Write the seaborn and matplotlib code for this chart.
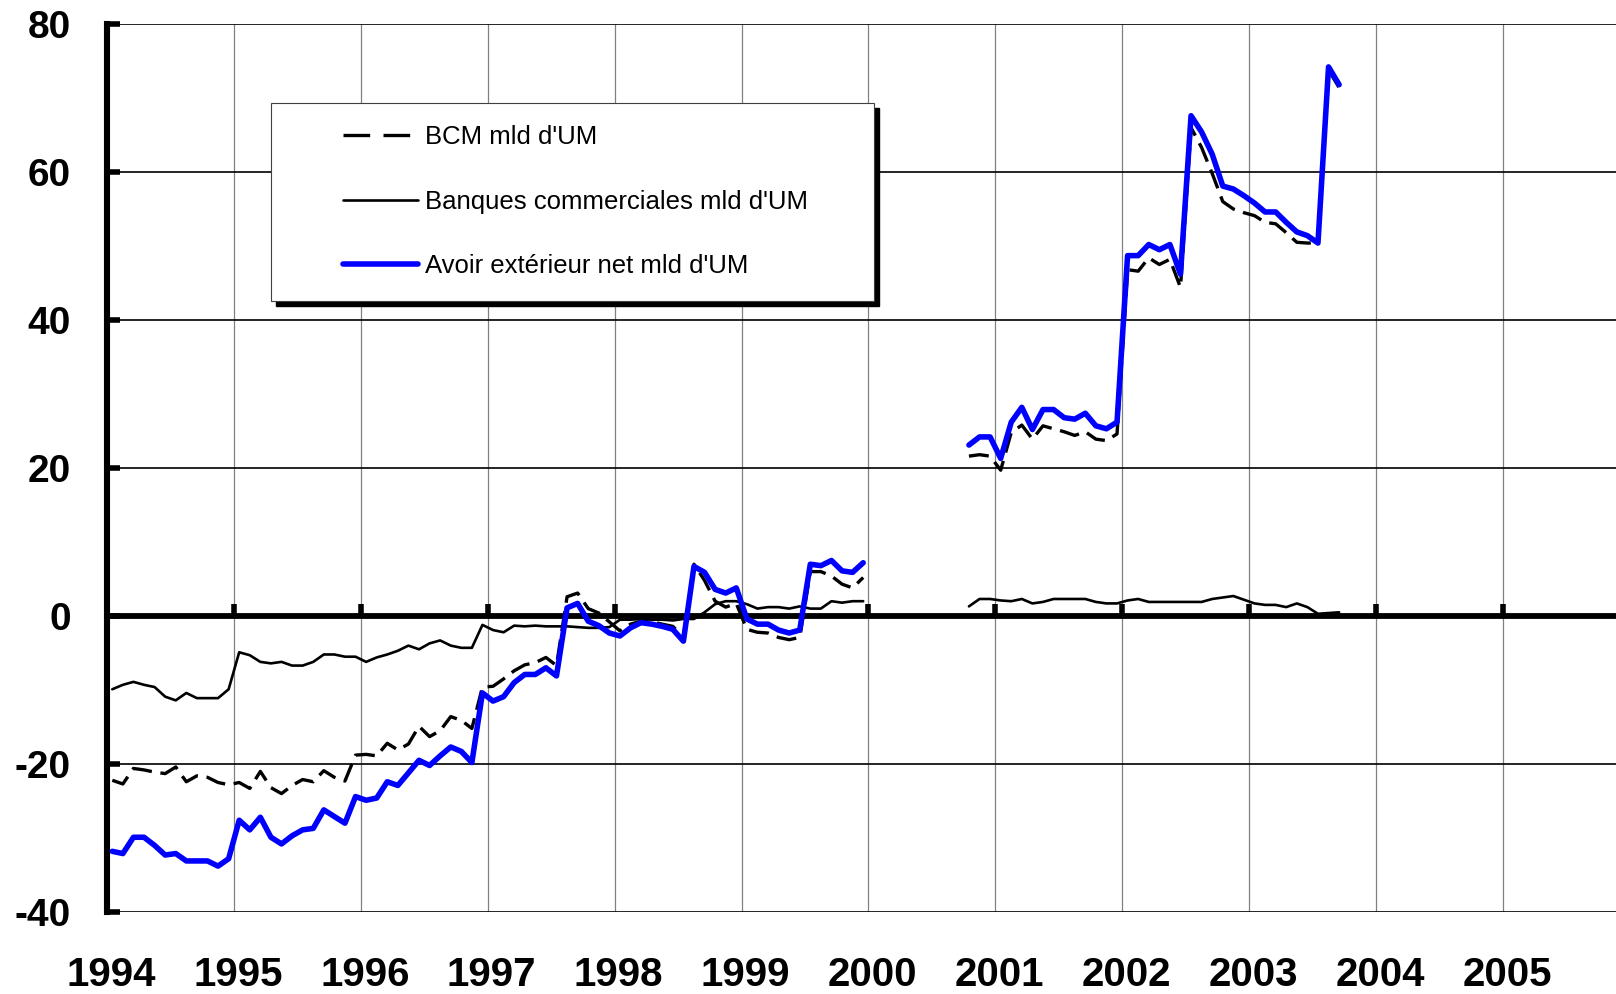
import numpy as np
import pandas as pd
import matplotlib
matplotlib.use("Agg")
import matplotlib.pyplot as plt
import matplotlib.transforms as mtransforms
import seaborn as sns
from matplotlib.patches import Rectangle
from matplotlib.lines import Line2D

# ---------------- data (monthly, mld d'UM) ----------------
series_names = ["BCM mld d'UM", "Banques commerciales mld d'UM", "Avoir extérieur net mld d'UM"]

# segment 1 : Jan 1994 - Dec 1999
bcm_1994 = [-22.2, -22.7, -20.6, -20.8, -21.1, -21.3, -20.4, -22.4, -21.6, -21.8, -22.5, -22.8]
bcm_1995 = [-22.5, -23.3, -21.0, -23.2, -24.0, -22.9, -22.1, -22.4, -20.9, -21.8, -22.3, -18.8]
bcm_1996 = [-18.7, -18.9, -17.2, -18.1, -17.3, -14.9, -16.3, -15.5, -13.6, -14.1, -15.2, -9.6]
bcm_1997 = [-9.5, -8.5, -7.4, -6.6, -6.3, -5.6, -6.7, 2.6, 3.1, 1.0, 0.4, -0.8]
bcm_1998 = [-2.0, -1.1, -0.7, -0.8, -1.1, -1.4, -2.8, 7.0, 4.8, 2.0, 1.2, 1.7]
bcm_1999 = [-1.8, -2.2, -2.3, -2.9, -3.2, -2.9, 6.0, 6.0, 5.4, 4.3, 3.8, 5.2]

bc_1994 = [-9.9, -9.3, -8.9, -9.3, -9.6, -10.9, -11.4, -10.4, -11.1, -11.1, -11.1, -9.9]
bc_1995 = [-4.9, -5.3, -6.2, -6.4, -6.2, -6.7, -6.7, -6.2, -5.2, -5.2, -5.5, -5.5]
bc_1996 = [-6.2, -5.6, -5.2, -4.7, -4.0, -4.5, -3.7, -3.3, -4.0, -4.3, -4.3, -1.2]
bc_1997 = [-1.9, -2.2, -1.3, -1.4, -1.3, -1.4, -1.4, -1.4, -1.5, -1.6, -1.6, -1.5]
bc_1998 = [-0.5, -0.5, -0.4, -0.5, -0.5, -0.6, -0.4, -0.4, 0.5, 1.6, 2.0, 2.0]
bc_1999 = [1.6, 1.0, 1.2, 1.2, 1.0, 1.3, 1.0, 1.0, 2.0, 1.8, 2.0, 2.0]

aen_1994 = [-31.8, -32.1, -29.9, -29.9, -31.0, -32.3, -32.1, -33.1, -33.1, -33.1, -33.8, -32.8]
aen_1995 = [-27.6, -28.9, -27.2, -29.9, -30.8, -29.7, -28.9, -28.7, -26.2, -27.1, -28.0, -24.4]
aen_1996 = [-24.9, -24.6, -22.4, -22.9, -21.2, -19.5, -20.2, -18.9, -17.7, -18.3, -19.8, -10.4]
aen_1997 = [-11.5, -10.9, -9.0, -7.9, -7.9, -7.0, -8.1, 1.1, 1.7, -0.7, -1.3, -2.3]
aen_1998 = [-2.7, -1.6, -0.9, -1.1, -1.4, -1.8, -3.4, 6.7, 5.9, 3.6, 3.1, 3.8]
aen_1999 = [-0.4, -1.1, -1.1, -1.9, -2.3, -1.9, 7.0, 6.8, 7.5, 6.1, 5.9, 7.2]

# segment 2 : Oct 2000 - Sep 2003
bcm_2000 = [21.6, 21.8, 21.6]
bcm_2001 = [19.7, 24.8, 25.8, 23.9, 25.7, 25.3, 24.9, 24.4, 24.9, 23.9, 23.7, 24.6]
bcm_2002 = [46.8, 46.6, 48.4, 47.5, 48.2, 44.4, 66.0, 63.3, 59.8, 56.0, 55.0, 54.5]
bcm_2003 = [54.1, 53.2, 53.0, 51.8, 50.5, 50.4, 50.4, 73.8, 71.4]

bc_2000 = [1.3, 2.3, 2.3]
bc_2001 = [2.1, 2.0, 2.3, 1.7, 1.9, 2.3, 2.3, 2.3, 2.3, 1.9, 1.7, 1.7]
bc_2002 = [2.1, 2.3, 1.9, 1.9, 1.9, 1.9, 1.9, 1.9, 2.3, 2.5, 2.7, 2.2]
bc_2003 = [1.7, 1.5, 1.5, 1.2, 1.7, 1.2, 0.3, 0.4, 0.5]

aen_2000 = [23.1, 24.2, 24.2]
aen_2001 = [21.3, 26.2, 28.2, 25.2, 27.9, 27.9, 26.8, 26.6, 27.4, 25.7, 25.3, 26.2]
aen_2002 = [48.7, 48.7, 50.2, 49.5, 50.2, 46.2, 67.6, 65.4, 62.4, 58.1, 57.7, 56.8]
aen_2003 = [55.8, 54.6, 54.6, 53.2, 51.9, 51.4, 50.4, 74.2, 71.8]

segment_starts = [(1994, 1), (2000, 10)]

x_tick_years = list(range(1994, 2006))
x_tick_labels = [str(y) for y in x_tick_years]
y_ticks = [-40, -20, 0, 20, 40, 60, 80]
y_tick_labels = ["-40", "-20", "0", "20", "40", "60", "80"]

# ---------------- build long table ----------------
seg_values = {
    series_names[0]: [bcm_1994 + bcm_1995 + bcm_1996 + bcm_1997 + bcm_1998 + bcm_1999,
                      bcm_2000 + bcm_2001 + bcm_2002 + bcm_2003],
    series_names[1]: [bc_1994 + bc_1995 + bc_1996 + bc_1997 + bc_1998 + bc_1999,
                      bc_2000 + bc_2001 + bc_2002 + bc_2003],
    series_names[2]: [aen_1994 + aen_1995 + aen_1996 + aen_1997 + aen_1998 + aen_1999,
                      aen_2000 + aen_2001 + aen_2002 + aen_2003],
}

rows = []
for name, segs in seg_values.items():
    for si, (vals, (sy, sm)) in enumerate(zip(segs, segment_starts)):
        for i, v in enumerate(vals):
            rows.append({"date": sy + (sm - 1 + i + 0.5) / 12.0, "value": v,
                         "series": name, "segment": si})
df = pd.DataFrame(rows)

# ---------------- style ----------------
sns.set_style("white")
plt.rcParams["font.family"] = ["Liberation Sans", "DejaVu Sans"]
plt.rcParams["axes.unicode_minus"] = False
plt.rcParams["text.color"] = "black"
plt.rcParams["xtick.color"] = "black"
plt.rcParams["ytick.color"] = "black"
plt.rcParams["xtick.labelcolor"] = "black"
plt.rcParams["ytick.labelcolor"] = "black"

W, H = 1616, 994
fig = plt.figure(figsize=(W / 100, H / 100), dpi=100)
left_px, top_px, bottom_px = 107, 24, 912
ax = fig.add_axes([left_px / W, 1 - bottom_px / H, 1 - left_px / W, (bottom_px - top_px) / H])

styles = {
    series_names[0]: dict(color="black", linewidth=2.4, linestyle=(0, (6.0, 2.6)), zorder=3),
    series_names[1]: dict(color="black", linewidth=1.9, linestyle="-", zorder=3),
    series_names[2]: dict(color="#0000FF", linewidth=4.0, linestyle="-", zorder=4),
}

for name in series_names:
    sub = df[df["series"] == name]
    st = styles[name]
    sns.lineplot(data=sub, x="date", y="value", units="segment", estimator=None,
                 sort=False, ax=ax, legend=False, color=st["color"],
                 linewidth=st["linewidth"], linestyle=st["linestyle"], zorder=st["zorder"])

ax.set_xlim(1994, 2005.89)
ax.set_ylim(-40, 80)
ax.set_xlabel("")
ax.set_ylabel("")

# grid
ax.set_xticks(x_tick_years)
ax.set_yticks(y_ticks)
ax.xaxis.grid(True, color="#808080", linewidth=0.9)
ax.yaxis.grid(True, color="black", linewidth=1.2)
ax.set_axisbelow(True)

# spines
for s in ["top", "right"]:
    ax.spines[s].set_visible(False)
ax.spines["left"].set_linewidth(4.4)
ax.spines["left"].set_color("black")
ax.spines["bottom"].set_position(("data", 0))
ax.spines["bottom"].set_linewidth(4.2)
ax.spines["bottom"].set_color("black")
ax.spines["bottom"].set_zorder(3.5)

ax.tick_params(axis="x", direction="in", length=9, width=4, color="black",
               labelbottom=False, bottom=True)
ax.set_yticklabels(y_tick_labels)
ax.tick_params(axis="y", direction="in", length=9, width=4, color="black",
               pad=26, labelsize=28, left=True, labelcolor="black")
for lab in ax.get_yticklabels():
    lab.set_fontweight("bold")

# year labels on a secondary axis at the bottom
sec = ax.secondary_xaxis("bottom")
sec.set_xticks(x_tick_years)
sec.set_xticklabels(x_tick_labels)
sec.tick_params(axis="x", length=0, pad=32, labelsize=29, labelcolor="black")
sec.spines["bottom"].set_visible(False)
offset = mtransforms.ScaledTranslation(4 / 100, 0, fig.dpi_scale_trans)
for lab in sec.get_xticklabels():
    lab.set_fontweight("bold")
    lab.set_transform(lab.get_transform() + offset)

# legend box with shadow
bx0, by0, bx1, by1 = 271, 103, 874, 301
shadow = Rectangle(((bx0 + 5) / W, 1 - (by1 + 5) / H), (bx1 - bx0) / W, (by1 - by0) / H,
                   transform=fig.transFigure, facecolor="black", edgecolor="black",
                   zorder=6, clip_on=False)
box = Rectangle((bx0 / W, 1 - by1 / H), (bx1 - bx0) / W, (by1 - by0) / H,
                transform=fig.transFigure, facecolor="white", edgecolor="#404040",
                linewidth=0.8, zorder=7, clip_on=False)
ax.add_patch(shadow)
ax.add_patch(box)

handles = [Line2D([], [], color=styles[n]["color"], linewidth=styles[n]["linewidth"],
                  linestyle=styles[n]["linestyle"]) for n in series_names]
handles[0].set_linestyle((0, (8.0, 4.0)))
leg = ax.legend(handles, series_names, loc="upper left",
                bbox_to_anchor=(343 / W, 1 - 125 / H), bbox_transform=fig.transFigure,
                frameon=False, fontsize=18.5, handlelength=2.9, handletextpad=0.3,
                labelspacing=1.58, borderpad=0, borderaxespad=0)
for t in leg.get_texts():
    t.set_color("black")
leg.set_zorder(8)

fig.savefig("out.png", dpi=100)
